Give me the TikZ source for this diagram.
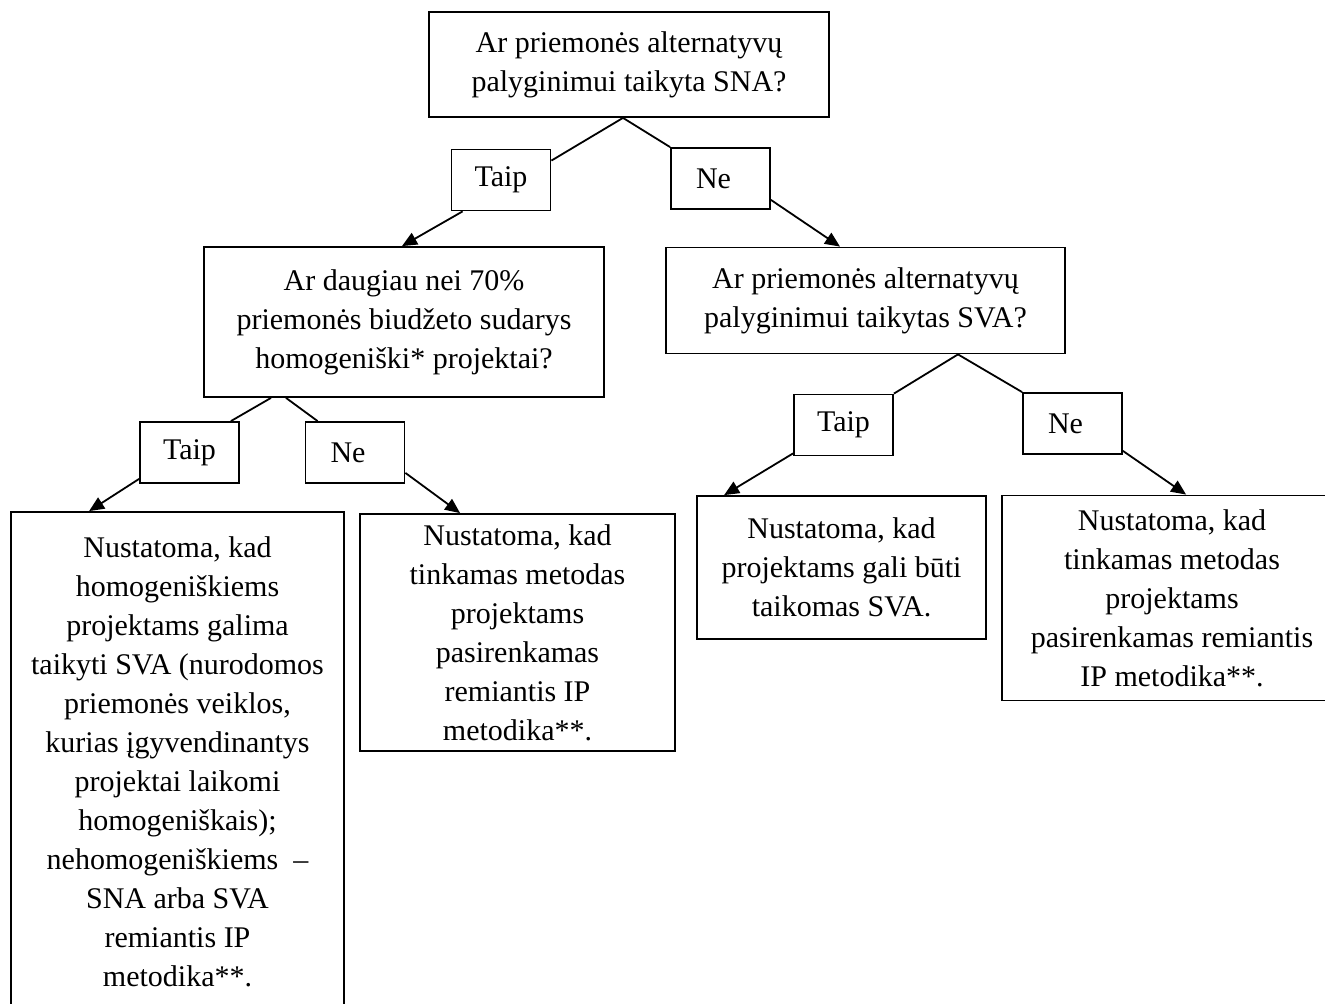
\documentclass[tikz,border=0pt]{standalone}
\usepackage{fontspec}
\setmainfont{Liberation Serif}
\usetikzlibrary{arrows.meta}
\begin{document}
\begin{tikzpicture}
[x=0.5pt,y=-0.5pt,
 boxdecorate/.style={shape=rectangle,draw,line width=0.9pt,inner sep=0pt,align=center,%
   font=\fontsize{15}{19.5}\selectfont},%
 answerdecorate/.style={boxdecorate,minimum width=49.5pt,minimum height=30.5pt},%
 linedecorate/.style={-,line width=0.9pt},%
 arrowdecorate/.style={-{Triangle[length=7.5pt,width=6.5pt]},line width=0.9pt}]
\useasboundingbox (0,0) rectangle (1325,1004);
\clip (0,0) rectangle (1325,1004);
%% questions
\node (q1) at (629,64.5) [boxdecorate,minimum width=200pt,minimum height=52.5pt]
  {Ar priemonės alternatyvų\\palyginimui taikyta SNA?};
\node (q2) at (404,322) [boxdecorate,minimum width=200pt,minimum height=75pt]
  {Ar daugiau nei 70\%\\priemonės biudžeto sudarys\\homogeniški* projektai?};
\node (q3) at (865.5,300.5) [boxdecorate,minimum width=199.5pt,minimum height=53pt]
  {Ar priemonės alternatyvų\\palyginimui taikytas SVA?};
%% answers
\foreach \nodename/\x/\y/\answer in {t1/501/180/Taip, n1/720.5/178.5/Ne\hspace*{7pt},
  t2/189.5/452.5/Taip, n2/355/452.5/Ne\hspace*{7pt}, t3/843.5/425/Taip,
  n3/1072.5/423.5/Ne\hspace*{7pt}} {
  \node (\nodename) at (\x,\y) [answerdecorate] {\answer};
}
%% results
\node (r1) at (177.5,762) [boxdecorate,minimum width=166.5pt,minimum height=250pt]
  {Nustatoma, kad\\homogeniškiems\\projektams galima\\taikyti SVA (nurodomos\\priemonės veiklos,\\kurias įgyvendinantys\\projektai laikomi\\homogeniškais);\\nehomogeniškiems~~–\\SNA arba SVA\\remiantis IP\\metodika**.};
\node (r2) at (517.5,632.5) [boxdecorate,minimum width=157.5pt,minimum height=118.5pt]
  {Nustatoma, kad\\tinkamas metodas\\projektams\\pasirenkamas\\remiantis IP\\metodika**.};
\node (r3) at (841.5,567.5) [boxdecorate,minimum width=144.5pt,minimum height=71.5pt]
  {Nustatoma, kad\\projektams gali būti\\taikomas SVA.};
\node (r4) at (1172,598) [boxdecorate,minimum width=170pt,minimum height=102.5pt]
  {Nustatoma, kad\\tinkamas metodas\\projektams\\pasirenkamas remiantis\\IP metodika**.};
%% edges or lines
\draw[linedecorate] ([xshift=-3pt]q1.south) -- ([yshift=-6pt]t1.north east);
\draw[linedecorate] ([xshift=-3pt]q1.south) -- (n1.north west);
\draw[linedecorate] ([xshift=-66.5pt]q2.south) -- ([xshift=-4.5pt]t2.north east);
\draw[linedecorate] ([xshift=-59pt]q2.south) -- ([xshift=6.5pt]n2.north west);
\draw[linedecorate] ([xshift=46.25pt]q3.south) -- (t3.north east);
\draw[linedecorate] ([xshift=46.25pt]q3.south) -- (n3.north west);
%% arrows
\draw[arrowdecorate] ([xshift=6pt]t1.south west) -- ([xshift=-1pt]q2.north);
\draw[arrowdecorate] ([yshift=5pt]n1.south east) -- ([xshift=-12.75pt]q3.north);
\draw[arrowdecorate] ([yshift=2.5pt]t2.south west) -- ([xshift=39.5pt]r1.north west);
\draw[arrowdecorate] ([yshift=5.5pt]n2.south east) -- ([xshift=50.5pt]r2.north west);
\draw[arrowdecorate] ([yshift=1.5pt]t3.south west) -- ([xshift=14pt]r3.north west);
\draw[arrowdecorate] ([yshift=2pt]n3.south east) -- ([xshift=92.5pt]r4.north west);
\end{tikzpicture}
\end{document}
